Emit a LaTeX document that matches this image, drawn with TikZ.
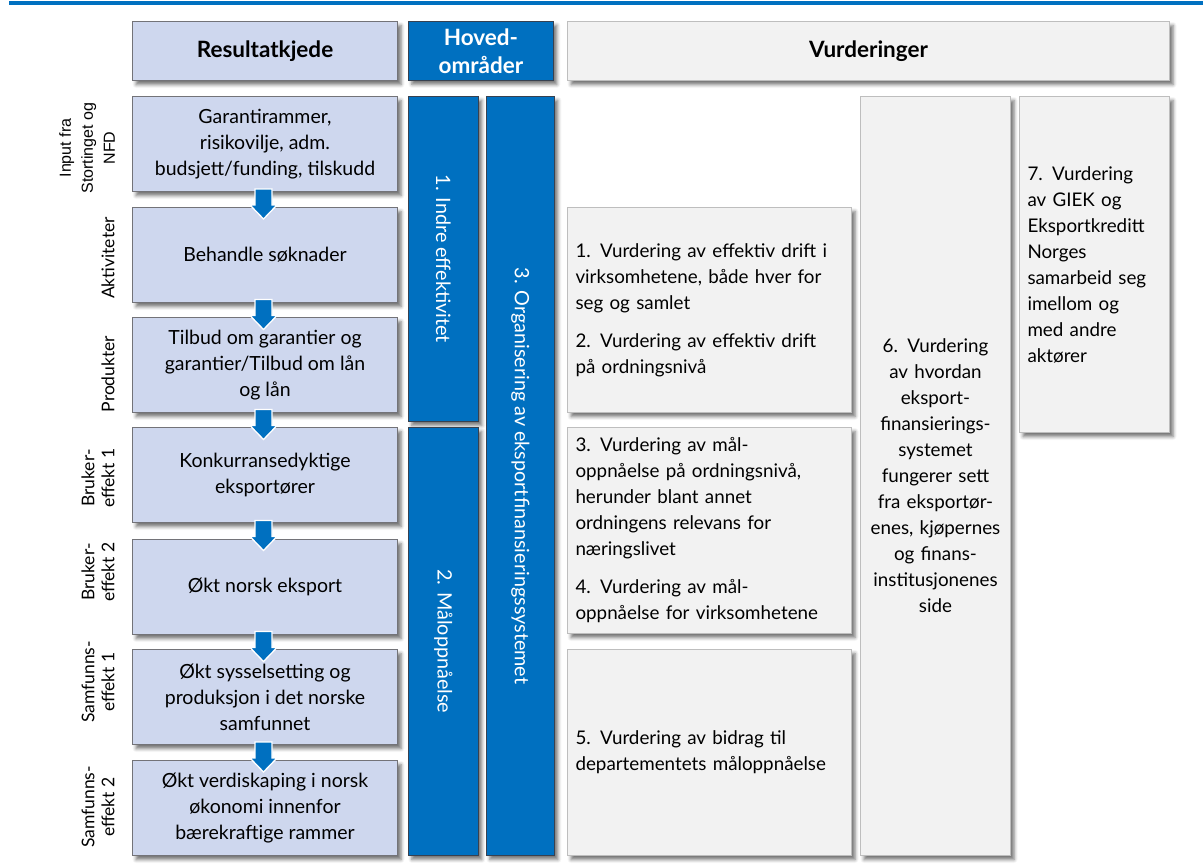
\documentclass[tikz,border=0pt]{standalone}
\usepackage{fontspec}
\setmainfont{Lato}
\newfontfamily\inputfont{Liberation Sans}
\usetikzlibrary{shadows.blur,calc}

\definecolor{chainfill}{RGB}{206,215,238}
\definecolor{chainline}{RGB}{115,115,120}
\definecolor{mainblue}{RGB}{0,112,192}
\definecolor{blueline}{RGB}{55,65,80}
\definecolor{evalfill}{RGB}{242,242,242}
\definecolor{evalline}{RGB}{190,190,190}

\begin{document}
\begin{tikzpicture}[x=1pt,y=-1pt,
  boxshadow/.style={blur shadow={shadow xshift=3.5pt,shadow yshift=-4pt,
      shadow blur radius=3.5pt,shadow opacity=55}},
  chaintxt/.style={font=\fontsize{19.5}{26}\selectfont},
  evaltxt/.style={font=\fontsize{18.8}{26}\selectfont},
  chainbox/.style={boxshadow,draw=chainline,line width=1pt,fill=chainfill,
      anchor=north west,minimum width=265pt,minimum height=95pt,
      align=center,chaintxt,inner sep=4pt},
  bluebox/.style={boxshadow,draw=blueline,line width=0.8pt,fill=mainblue,
      anchor=north west,inner sep=0pt},
  evalbox/.style={boxshadow,draw=evalline,line width=1pt,fill=evalfill,
      anchor=north west,inner xsep=8pt,inner ysep=0pt,evaltxt},
  sidelabel/.style={rotate=90,align=center,font=\fontsize{17.5}{20}\selectfont},
  bartext/.style={rotate=-90,text=white,font=\fontsize{19.8}{22}\selectfont},
  headtext/.style={font=\fontsize{22.5}{28}\selectfont\bfseries},
  flowarrow/.style={fill=mainblue,draw=white,line width=1.3pt,line join=miter}
]
\useasboundingbox (0,0) rectangle (1203,865);

% rule across the top of the page
\fill[mainblue] (9,1) rectangle (1203,5);

% column headers
\node[chainbox,minimum width=265pt,minimum height=59pt,headtext] (hchain) at (132,21) {Resultatkjede};
\node[bluebox,minimum width=145pt,minimum height=59pt,text=white,align=center,
      font=\fontsize{22.5}{28}\selectfont\bfseries] (hmain) at (408,21) {Hoved-\\områder};
\node[evalbox,minimum width=602pt,minimum height=59pt,headtext,align=center,text width=586pt] (heval) at (567,21) {Vurderinger};

% result chain
\node[chainbox] (b1) at (132,96)  {Garantirammer,\\risikovilje, adm.\\budsjett/funding, tilskudd};
\node[chainbox] (b2) at (132,207) {Behandle søknader};
\node[chainbox] (b3) at (132,317) {Tilbud om garantier og\\garantier/Tilbud om lån\\og lån};
\node[chainbox] (b4) at (132,427) {Konkurransedyktige\\eksportører};
\node[chainbox] (b5) at (132,539) {Økt norsk eksport};
\node[chainbox] (b6) at (132,649) {Økt sysselsetting og\\produksjon i det norske\\samfunnet};
\node[chainbox] (b7) at (132,760) {Økt verdiskaping i norsk\\økonomi innenfor\\bærekraftige rammer};

% block arrows between the chain steps
\foreach \u/\v in {b1/b2,b2/b3,b3/b4,b4/b5,b5/b6,b6/b7}{
  \coordinate (mid-\u) at ($(\u.south)!0.5!(\v.north)+(-1.5,0)$);
  \draw[flowarrow] ($(mid-\u)+(-8.5,-10.5)$) -- ++(17,0) -- ++(0,16) -- ++(5,0)
     -- ($(mid-\u)+(0,19.5)$) -- ($(mid-\u)+(-13.5,5.5)$) -- ++(5,0) -- cycle;
}

% row labels
\node[rotate=90,align=center,font=\inputfont\fontsize{16}{22}\selectfont] (linput) at (87,148) {Input fra\\Stortinget og\\NFD};
\node[sidelabel] (lakt)  at (108,258) {Aktiviteter};
\node[sidelabel] (lprod) at (108,374) {Produkter};
\node[sidelabel] (lbr1)  at (98,478)  {Bruker-\\effekt 1};
\node[sidelabel] (lbr2)  at (98,572)  {Bruker-\\effekt 2};
\node[sidelabel] (lsa1)  at (98,682)  {Samfunns-\\effekt 1};
\node[sidelabel] (lsa2)  at (98,807)  {Samfunns-\\effekt 2};

% main areas
\node[bluebox,minimum width=70pt,minimum height=325pt] (m1) at (408,96) {};
\node[bluebox,minimum width=70pt,minimum height=428pt] (m2) at (408,427) {};
\node[bluebox,minimum width=68pt,minimum height=759pt] (m3) at (486,96) {};
\node[bartext] (t1) at (m1.center) {1. Indre effektivitet};
\node[bartext] (t2) at (m2.center) {2. Måloppnåelse};
\node[bartext] (t3) at (m3.center) {3. Organisering av eksportfinansieringssystemet};

% evaluations
\node[evalbox,text width=268pt,minimum height=205pt,align=left] (e12) at (567,207)
  {1. Vurdering av effektiv drift i\\virksomhetene, både hver for\\seg og samlet\\[12pt]
   2. Vurdering av effektiv drift\\på ordningsnivå};
\node[evalbox,text width=268pt,minimum height=206pt,align=left] (e34) at (567,427)
  {3. Vurdering av mål-\\oppnåelse på ordningsnivå,\\herunder blant annet\\ordningens relevans for\\næringslivet\\[12pt]
   4. Vurdering av mål-\\oppnåelse for virksomhetene};
\node[evalbox,text width=268pt,minimum height=206pt,align=left] (e5) at (567,649)
  {5. Vurdering av bidrag til\\departementets måloppnåelse};
\node[evalbox,text width=134pt,minimum height=759pt,align=center] (e6) at (860,96)
  {6. Vurdering\\av hvordan\\eksport-\\finansierings-\\systemet\\fungerer sett\\fra eksportør-\\enes, kjøpernes\\og finans-\\institusjonenes\\side};
\node[evalbox,text width=134pt,minimum height=336pt,align=left] (e7) at (1019,96)
  {7. Vurdering\\av GIEK og\\Eksportkreditt\\Norges\\samarbeid seg\\imellom og\\med andre\\aktører};
\end{tikzpicture}
\end{document}
